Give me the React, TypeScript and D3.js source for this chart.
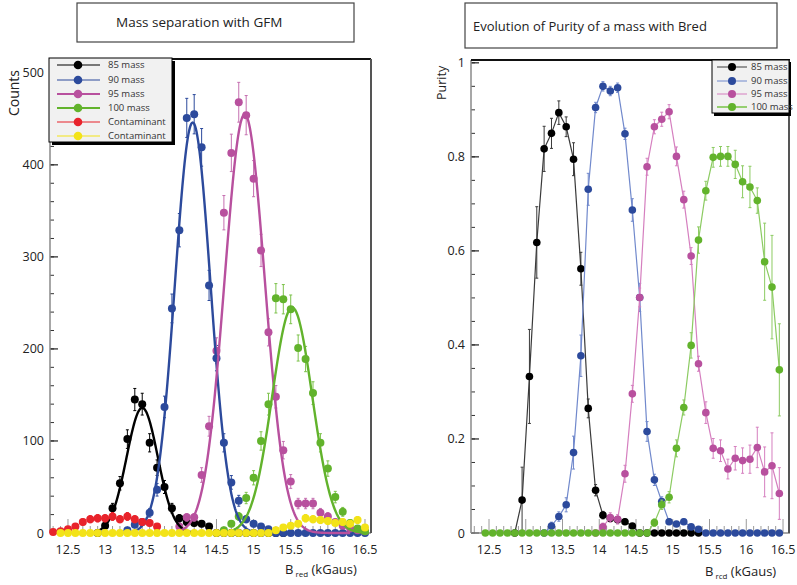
import * as d3 from 'd3'

// ---- left chart: counts per 0.1 kGaus bin (x = from + i*0.1) ----
const blackFrom = 12.9
const blackCounts = [0, 8, 27, 54, 102, 145, 140, 98, 71, 50, 27, 16, 12, 11, 10, 7, 0, 0, 0, 0, 0, 0, 0, 0, 0, 0]
const blueFrom = 13.3
const blueCounts = [3, 9, 12, 22, 47, 137, 244, 329, 451, 455, 419, 269, 190, 98, 55, 35, 15, 10, 7, 4, 0, 0, 0, 0, 0, 0, 0, 0, 0, 0, 0, 0, 0]
const pinkFrom = 14.0
const pinkCounts = [7, 17, 17, 63, 116, 198, 348, 413, 468, 454, 385, 307, 218, 148, 90, 56, 32, 32, 32, 22, 18, 12, 8, 5, 3, 2]
const greenFrom = 14.6
const greenCounts = [3, 10, 18, 38, 60, 100, 140, 255, 254, 243, 201, 189, 152, 98, 70, 39, 23, 11, 5, 2]
const redFrom = 12.3
const redCounts = [1, 2, 4, 7, 12, 15, 16, 16, 18, 15, 18, 15, 12, 11, 7]
const yellowFrom = 12.4
const yellowCounts = [
  0, 0, 0, 0, 0, 0, 0, 0, 0, 0, 0, 0, 0, 0, 0, 0, 0, 0, 0, 0, 0, 0, 0, 0, 0, 0, 0, 0, 0,
  3, 6, 8, 10, 16, 15, 14, 13, 11, 12, 10, 14, 6,
]

// gaussian fits [amplitude, mean, sigma, from, to]
const blackFit = [136, 13.5, 0.21, 12.9, 14.3]
const blueFit = [446, 14.18, 0.24, 13.4, 15.1]
const pinkFit = [455, 14.88, 0.27, 14.0, 16.3]
const greenFit = [245, 15.52, 0.27, 14.6, 16.55]

// ---- right chart: purity per bin ----
const pBlackFrom = 12.85
const pBlack = [0, 0.07, 0.333, 0.618, 0.817, 0.85, 0.894, 0.864, 0.795, 0.562, 0.265, 0.091, 0.038, 0.031, 0.028, 0.024, 0.015, 0, 0, 0, 0, 0, 0, 0, 0, 0]
const pBlackErr = [0, 0.07, 0.1, 0.076, 0.048, 0.032, 0.025, 0.021, 0.035, 0.035, 0.02, 0.012, 0.008, 0.006, 0.006, 0.006, 0.005, 0, 0, 0, 0, 0, 0, 0, 0, 0]
const pBlueFrom = 13.25
const pBlue = [0, 0.015, 0.035, 0.06, 0.171, 0.377, 0.731, 0.905, 0.95, 0.94, 0.947, 0.849, 0.687, 0.501, 0.216, 0.113, 0.067, 0.024, 0.019, 0.024, 0.013, 0.008, 0, 0, 0, 0, 0, 0, 0, 0, 0, 0, 0]
const pBlueErr = [0, 0.008, 0.01, 0.015, 0.035, 0.044, 0.034, 0.011, 0.01, 0.01, 0.01, 0.012, 0.024, 0.03, 0.021, 0.012, 0.01, 0.006, 0.005, 0.006, 0.004, 0.003, 0, 0, 0, 0, 0, 0, 0, 0, 0, 0, 0]
const pPinkFrom = 13.95
const pPink = [0, 0.013, 0.033, 0.029, 0.126, 0.296, 0.501, 0.779, 0.864, 0.88, 0.896, 0.801, 0.709, 0.589, 0.36, 0.256, 0.18, 0.175, 0.136, 0.159, 0.154, 0.157, 0.182, 0.13, 0.143, 0.084]
const pPinkErr = [0, 0.008, 0.01, 0.01, 0.018, 0.018, 0.02, 0.018, 0.015, 0.015, 0.015, 0.02, 0.018, 0.018, 0.016, 0.023, 0.021, 0.023, 0.021, 0.025, 0.027, 0.03, 0.043, 0.053, 0.07, 0.055]
const pGreenFrom = 12.45
const pGreen = [
  0, 0, 0, 0, 0, 0, 0, 0, 0, 0, 0, 0, 0, 0, 0, 0, 0, 0, 0, 0, 0, 0, 0,
  0.022, 0.06, 0.076, 0.18, 0.267, 0.399, 0.623, 0.728, 0.799, 0.801, 0.801, 0.784, 0.747, 0.736, 0.707, 0.577, 0.523, 0.347,
]
const pGreenErr = [
  0, 0, 0, 0, 0, 0, 0, 0, 0, 0, 0, 0, 0, 0, 0, 0, 0, 0, 0, 0, 0, 0, 0,
  0.008, 0.01, 0.012, 0.018, 0.016, 0.027, 0.028, 0.02, 0.021, 0.021, 0.021, 0.03, 0.034, 0.044, 0.027, 0.082, 0.11, 0.098,
]

const xTicks = [12.5, 13, 13.5, 14, 14.5, 15, 15.5, 16, 16.5]
const countTicks = [0, 100, 200, 300, 400, 500]
const purityTicks = [0, 0.2, 0.4, 0.6, 0.8, 1]

const leftLegend = ['85 mass', '90 mass', '95 mass', '100 mass', 'Contaminant', 'Contaminant']
const rightLegend = ['85 mass', '90 mass', '95 mass', '100 mass']

const C = {
  black: '#000000',
  blue: '#2c4a9c',
  pink: '#b8509e',
  green: '#62b32c',
  red: '#e8232b',
  yellow: '#f3e318',
}
const lineC = {
  black: '#3a3a3a',
  blue: '#7189cc',
  pink: '#d57fbf',
  green: '#8ccb62',
}

const FONT = "'Open Sans', 'DejaVu Sans', sans-serif"

type Pt = { x: number; y: number; e: number }
const expand = (from: number, vals: number[], errs?: number[]): Pt[] =>
  vals.map((v, i) => ({ x: +(from + i * 0.1).toFixed(2), y: v, e: errs ? errs[i] : Math.sqrt(v) }))

function Points({ pts, x, y, color, errColor, r = 4 }: any) {
  return (
    <g>
      {pts.map((p: Pt, i: number) =>
        p.e > 0 ? (
          <g key={'e' + i} stroke={errColor} strokeWidth={1}>
            <line x1={x(p.x)} x2={x(p.x)} y1={y(p.y - p.e)} y2={y(p.y + p.e)} />
            <line x1={x(p.x) - 1.5} x2={x(p.x) + 1.5} y1={y(p.y + p.e)} y2={y(p.y + p.e)} />
            <line x1={x(p.x) - 1.5} x2={x(p.x) + 1.5} y1={y(p.y - p.e)} y2={y(p.y - p.e)} />
          </g>
        ) : null
      )}
      {pts.map((p: Pt, i: number) => (
        <circle key={'c' + i} cx={x(p.x)} cy={y(p.y)} r={r} fill={color} />
      ))}
    </g>
  )
}

function Axes({ x, y, yTicks, yMinor, yFmt, top, right }: any) {
  const [x0, x1] = x.range()
  const [y0] = y.range()
  return (
    <g fontFamily={FONT} fill="#222">
      {x.ticks(45).map((t: number) => {
        const major = xTicks.some((m) => Math.abs(m - t) < 1e-6)
        return <line key={'xt' + t} x1={x(t)} x2={x(t)} y1={y0} y2={y0 - (major ? 14 : 7)} stroke="#9a9a9a" strokeWidth={1} />
      })}
      {yMinor.map((t: number) => (
        <line key={'ym' + t} x1={x0} x2={x0 + 4} y1={y(t)} y2={y(t)} stroke="#333" strokeWidth={1} />
      ))}
      {yTicks.map((t: number) => (
        <line key={'yM' + t} x1={x0} x2={x0 + 8} y1={y(t)} y2={y(t)} stroke="#222" strokeWidth={1.2} />
      ))}
      <line x1={x0} x2={x1} y1={y0} y2={y0} stroke="#8a8a8a" strokeWidth={1.5} />
      <line x1={x0} x2={x0} y1={y0} y2={top} stroke="#8a8a8a" strokeWidth={1.5} />
      <line x1={x0} x2={x1} y1={top} y2={top} stroke="#111" strokeWidth={2} />
      <line x1={right} x2={right} y1={top} y2={y0} stroke="#555" strokeWidth={2} />
      {xTicks.map((t) => (
        <text key={'xl' + t} x={x(t)} y={554} fontSize={12.5} textAnchor="middle">
          {t}
        </text>
      ))}
      {yTicks.map((t: number) => (
        <text key={'yl' + t} x={x0 - 6} y={y(t)} dy="0.36em" fontSize={12.5} textAnchor="end">
          {yFmt(t)}
        </text>
      ))}
    </g>
  )
}

function LeftPanel() {
  const x = d3.scaleLinear().domain([12.258, 16.581]).range([50, 371])
  const y = d3.scaleLinear().domain([0, 515]).range([533, 59])
  const fitPath = (f: number[]) => {
    const [a, m, s, from, to] = f
    const xs = d3.range(from, to + 0.001, 0.01)
    return d3.line<number>().x((v) => x(v)).y((v) => y(a * Math.exp(-((v - m) ** 2) / (2 * s * s))))(xs) as string
  }
  const series = [
    { pts: expand(blackFrom, blackCounts), c: C.black, e: '#000' },
    { pts: expand(blueFrom, blueCounts), c: C.blue, e: C.blue },
    { pts: expand(pinkFrom, pinkCounts), c: C.pink, e: '#c56fb0' },
    { pts: expand(greenFrom, greenCounts), c: C.green, e: '#7cc24a' },
    { pts: expand(redFrom, redCounts), c: C.red, e: C.red },
    { pts: expand(yellowFrom, yellowCounts), c: C.yellow, e: '#e8d820' },
  ]
  const fits = [
    { f: blackFit, c: C.black },
    { f: blueFit, c: C.blue },
    { f: pinkFit, c: C.pink },
    { f: greenFit, c: C.green },
  ]
  const legColors = [C.black, C.blue, C.pink, C.green, C.red, C.yellow]
  const legW = [1.2, 1.2, 2.2, 2.2, 1.2, 1.2]
  const legY = [65, 80, 94, 108, 122, 136]
  return (
    <g>
      <rect x={77} y={3} width={277} height={39} fill="#fff" stroke="#444" strokeWidth={1.2} />
      <text x={116} y={27} fontFamily={FONT} fontSize={13.5} fill="#222">
        Mass separation with GFM
      </text>
      <Axes x={x} y={y} yTicks={countTicks} yMinor={y.ticks(25)} yFmt={(t: number) => String(t)} top={59} right={371} />
      {series.slice(0, 4).map((s, i) => (
        <Points key={'s' + i} pts={s.pts} x={x} y={y} color={s.c} errColor={s.e} r={4} />
      ))}
      {fits.map((f, i) => (
        <path key={'f' + i} d={fitPath(f.f)} fill="none" stroke={f.c} strokeWidth={2.4} />
      ))}
      {series.slice(4).map((s, i) => (
        <Points key={'t' + i} pts={s.pts} x={x} y={y} color={s.c} errColor={s.e} r={4} />
      ))}
      <text transform="translate(19,70) rotate(-90)" fontFamily={FONT} fontSize={14} textAnchor="end" fill="#222">
        Counts
      </text>
      <text x={285} y={574} fontFamily={FONT} fontSize={13} fill="#222">
        B<tspan fontSize={8} dy={3}> red</tspan>
        <tspan dy={-3}> (kGaus)</tspan>
      </text>
      <rect x={52} y={61} width={123} height={84} fill="#000" />
      <rect x={49} y={58} width={123} height={84} fill="#f1f1f1" stroke="#000" strokeWidth={1} />
      {leftLegend.map((l, i) => (
        <g key={'lg' + i}>
          <line x1={57} x2={100} y1={legY[i]} y2={legY[i]} stroke={legColors[i]} strokeWidth={legW[i]} />
          <circle cx={78} cy={legY[i]} r={4.3} fill={legColors[i]} />
          <text x={108} y={legY[i]} dy="0.35em" fontFamily={FONT} fontSize={9.5} fill="#333">
            {l}
          </text>
        </g>
      ))}
    </g>
  )
}

function RightPanel() {
  const x = d3.scaleLinear().domain([12.255, 16.595]).range([471, 790])
  const y = d3.scaleLinear().domain([0, 1.006]).range([533, 60])
  const series = [
    { pts: expand(pBlackFrom, pBlack, pBlackErr), c: C.black, l: lineC.black },
    { pts: expand(pBlueFrom, pBlue, pBlueErr), c: C.blue, l: lineC.blue },
    { pts: expand(pPinkFrom, pPink, pPinkErr), c: C.pink, l: lineC.pink },
    { pts: expand(pGreenFrom, pGreen, pGreenErr), c: C.green, l: lineC.green },
  ]
  const line = d3.line<Pt>().x((p) => x(p.x)).y((p) => y(p.y))
  const legY = [67, 81, 94, 107]
  return (
    <g>
      <rect x={465} y={3} width={312} height={45} fill="#fff" stroke="#444" strokeWidth={1.2} />
      <text x={473} y={31} fontFamily={FONT} fontSize={13} fill="#222">
        Evolution of Purity of a mass with Bred
      </text>
      <Axes
        x={x}
        y={y}
        yTicks={purityTicks}
        yMinor={y.ticks(20)}
        yFmt={(t: number) => (t === 0 || t === 1 ? String(t) : t.toFixed(1))}
        top={60}
        right={789}
      />
      {series.map((s, i) => (
        <g key={'rs' + i}>
          <path d={line(s.pts) as string} fill="none" stroke={s.l} strokeWidth={1.2} />
          <Points pts={s.pts} x={x} y={y} color={s.c} errColor={s.l} r={3.8} />
        </g>
      ))}
      <text transform="translate(446,100) rotate(-90)" fontFamily={FONT} fontSize={12.5} fill="#222">
        Purity
      </text>
      <text x={705} y={576} fontFamily={FONT} fontSize={13} fill="#222">
        B<tspan fontSize={8} dy={3}> rcd</tspan>
        <tspan dy={-3}> (kGaus)</tspan>
      </text>
      <rect x={714} y={62} width={77} height={54} fill="#000" />
      <rect x={712} y={60} width={77} height={53} fill="#f1f1f1" stroke="#000" strokeWidth={1} />
      {rightLegend.map((l, i) => (
        <g key={'rl' + i}>
          <line x1={717} x2={747} y1={legY[i]} y2={legY[i]} stroke={series[i].l} strokeWidth={i === 3 ? 1.8 : 1} />
          <circle cx={732} cy={legY[i]} r={4} fill={series[i].c} />
          <text x={751} y={legY[i]} dy="0.35em" fontFamily={FONT} fontSize={9.5} fill="#333">
            {l}
          </text>
        </g>
      ))}
    </g>
  )
}

export default function App() {
  return (
    <svg width={797} height={585} style={{ position: 'absolute', left: 0, top: 0, background: '#fff' }}>
      <rect width={797} height={585} fill="#fff" />
      <LeftPanel />
      <RightPanel />
    </svg>
  )
}
